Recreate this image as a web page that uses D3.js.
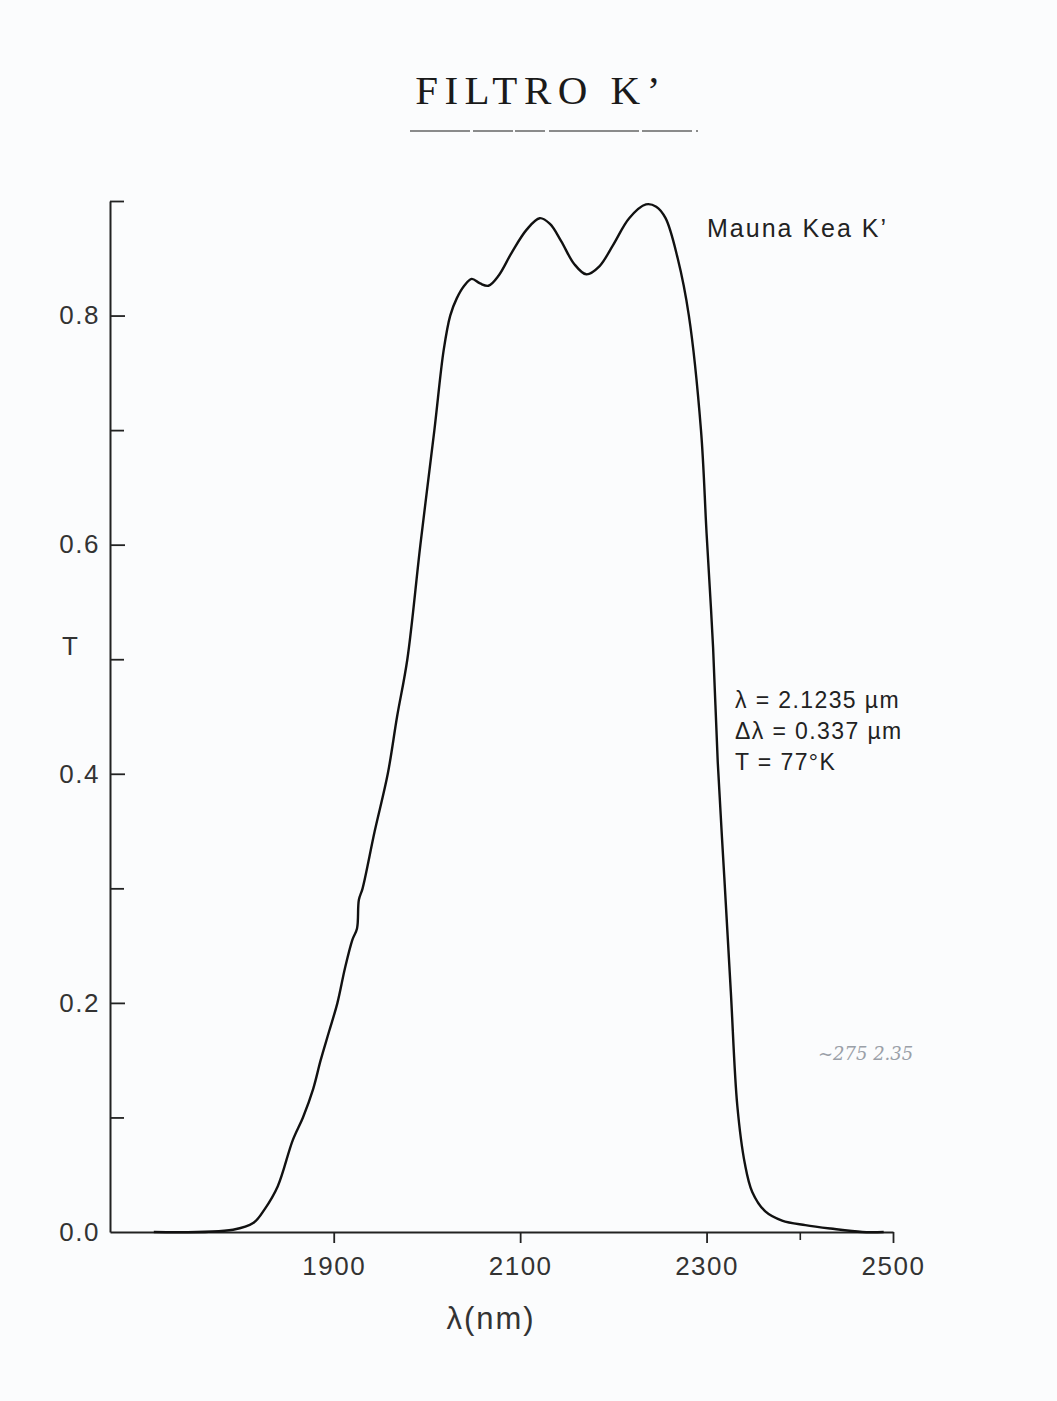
<!DOCTYPE html>
<html>
<head>
<meta charset="utf-8">
<script src="https://cdn.jsdelivr.net/npm/d3@7"></script>
<style>
  html, body { margin: 0; padding: 0; background: #fbfcfd; }
  svg { display: block; }
</style>
</head>
<body>
<script>
// ---- data ----
const wavelength = [1707,1792,1814,1826,1840,1856,1867,1878,1886,1895,
  1904,1912,1920,1925,1927,1931,1944,1958,1968,1979,
  1993,2008,2018,2025,2032,2040,2048,2057,2066,2077,
  2091,2107,2121,2132,2144,2158,2171,2185,2200,2217,
  2235,2246,2256,2269,2281,2294,2300,2307,2312,2319,
  2326,2333,2341,2349,2363,2381,2406,2433,2467,2490];
const transmission = [0,0.002,0.008,0.02,0.04,0.08,0.10,0.125,0.15,0.175,
  0.20,0.23,0.255,0.265,0.29,0.30,0.35,0.40,0.45,0.50,
  0.60,0.70,0.77,0.80,0.815,0.826,0.832,0.828,0.826,0.835,
  0.855,0.875,0.885,0.880,0.865,0.845,0.836,0.843,0.862,0.885,
  0.897,0.895,0.885,0.85,0.80,0.70,0.61,0.51,0.41,0.31,
  0.21,0.11,0.06,0.035,0.018,0.010,0.006,0.003,0.0,0.0];
const xTicks = [1900, 2100, 2300, 2500];
const xMinorTicks = [2400];
const yTicks = [0.0, 0.2, 0.4, 0.6, 0.8];
const yMinorTicks = [0.1, 0.3, 0.5, 0.7, 0.9];
const titleText = "FILTRO K\u2019";
const legendText = "Mauna Kea  K\u2019";
const noteLines = ["\u03bb = 2.1235 \u00b5m", "\u0394\u03bb = 0.337 \u00b5m", "T = 77\u00b0K"];
const xLabel = "\u03bb(nm)";
const yLabel = "T";

// ---- layout ----
const W = 1057, H = 1401;
const svg = d3.select("body").append("svg").attr("width", W).attr("height", H);
svg.append("rect").attr("width", W).attr("height", H).attr("fill", "#fbfcfd");

const x = d3.scaleLinear().domain([1660, 2500]).range([110, 893]);
const y = d3.scaleLinear().domain([0, 0.9]).range([1232, 201]);
const ink = "#222";
const font = "'Liberation Sans', Arial, sans-serif";

// title
svg.append("text").attr("x", 541).attr("y", 104).attr("text-anchor", "middle")
  .attr("font-family", "'Liberation Serif', 'DejaVu Serif', serif")
  .attr("font-size", 41).attr("letter-spacing", 6.5).attr("fill", "#1a1a1a")
  .text(titleText);
svg.append("line").attr("x1", 410).attr("x2", 698).attr("y1", 131).attr("y2", 131)
  .attr("stroke", "#666").attr("stroke-width", 1.6).attr("stroke-dasharray", "60 3 40 2 30 4 90 3 50 4");

// y axis (ticks pointing inward, labels outside)
const gy = svg.append("g").attr("transform", `translate(${x(1660)},0)`);
gy.call(d3.axisLeft(y).tickValues(yTicks).tickFormat(d3.format(".1f"))
  .tickSizeInner(-15).tickSizeOuter(0).tickPadding(10));
gy.select(".domain").attr("stroke", ink).attr("stroke-width", 2);
gy.selectAll(".tick line").attr("stroke", ink).attr("stroke-width", 1.8)
  .filter(d => d === 0).remove();
gy.selectAll(".tick text").attr("font-family", font).attr("font-size", 26)
  .attr("letter-spacing", 1.5).attr("fill", "#333");
const gym = svg.append("g").attr("transform", `translate(${x(1660)},0)`);
gym.call(d3.axisLeft(y).tickValues(yMinorTicks).tickFormat("").tickSizeInner(-14).tickSizeOuter(0));
gym.select(".domain").remove();
gym.selectAll(".tick line").attr("stroke", ink).attr("stroke-width", 1.8);

// x axis
const gx = svg.append("g").attr("transform", `translate(0,${y(0)})`);
gx.call(d3.axisBottom(x).tickValues(xTicks).tickFormat(d3.format("d"))
  .tickSizeInner(11).tickSizeOuter(0).tickPadding(14));
gx.select(".domain").attr("stroke", ink).attr("stroke-width", 2);
gx.selectAll(".tick line").attr("stroke", ink).attr("stroke-width", 1.8);
gx.selectAll(".tick text").attr("font-family", font).attr("font-size", 26)
  .attr("letter-spacing", 1.5).attr("fill", "#333");
const gxm = svg.append("g").attr("transform", `translate(0,${y(0)})`);
gxm.call(d3.axisBottom(x).tickValues(xMinorTicks).tickFormat("").tickSizeInner(8).tickSizeOuter(0));
gxm.select(".domain").remove();
gxm.selectAll(".tick line").attr("stroke", ink).attr("stroke-width", 1.6);

// axis labels
svg.append("text").attr("x", 491).attr("y", 1329).attr("text-anchor", "middle")
  .attr("font-family", font).attr("font-size", 31).attr("letter-spacing", 2).attr("fill", "#333").text(xLabel);
svg.append("text").attr("x", 70).attr("y", 655).attr("text-anchor", "middle")
  .attr("font-family", font).attr("font-size", 26).attr("fill", "#333").text(yLabel);

// curve
const pts = wavelength.map((w, i) => [w, transmission[i]]);
svg.append("path").datum(pts)
  .attr("fill", "none").attr("stroke", "#111").attr("stroke-width", 2.4)
  .attr("stroke-linejoin", "round")
  .attr("d", d3.line().x(d => x(d[0])).y(d => y(d[1])).curve(d3.curveCatmullRom.alpha(0.5)));

// legend / notes
svg.append("text").attr("x", 707).attr("y", 237)
  .attr("font-family", font).attr("font-size", 25).attr("letter-spacing", 2).attr("fill", "#222")
  .text(legendText);
svg.append("g").selectAll("text").data(noteLines).join("text")
  .attr("x", 735).attr("y", (d, i) => 708 + i * 31)
  .attr("font-family", font).attr("font-size", 23).attr("letter-spacing", 1.4).attr("fill", "#222")
  .text(d => d);

// faint pencil notes
svg.append("text").attr("x", 818).attr("y", 1060)
  .attr("font-family", "'DejaVu Serif', serif").attr("font-style", "italic")
  .attr("font-size", 18).attr("fill", "#9aa0a8").text("~275   2.35");
</script>
</body>
</html>
